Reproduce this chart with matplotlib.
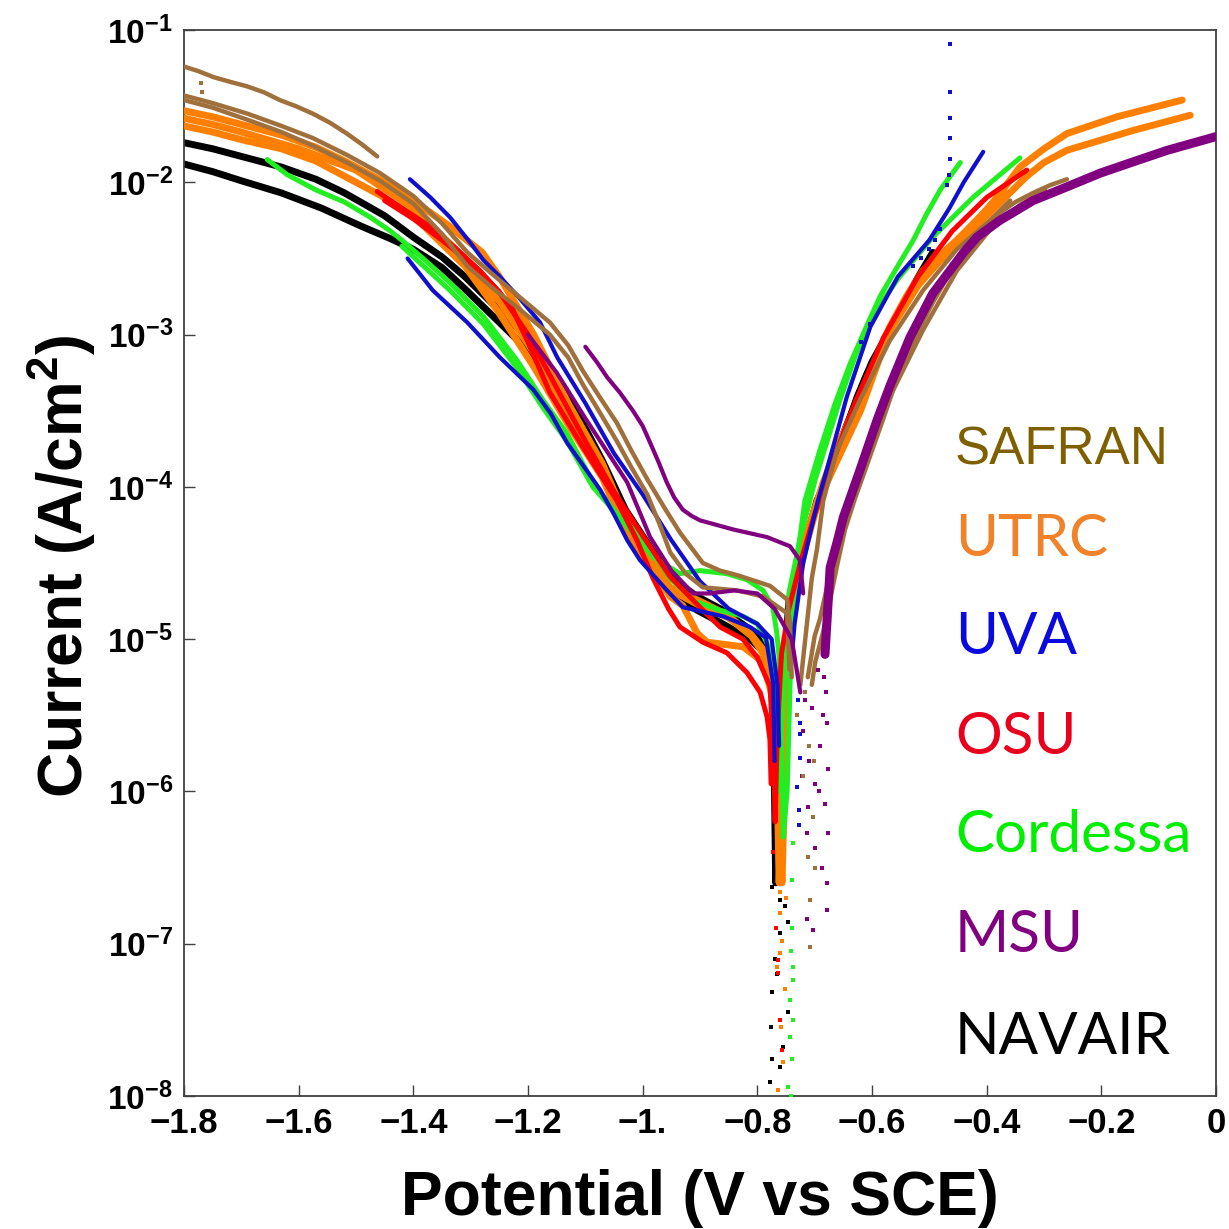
import numpy as np
import matplotlib
matplotlib.use("Agg")
import matplotlib.pyplot as plt

# Potentiodynamic scans: each run is a list of (E vs SCE [V], log10 current [A/cm2])
safran_runs = [
    [(-1.80, -1.24), (-1.775, -1.27), (-1.748, -1.31), (-1.72, -1.34), (-1.69, -1.37),
     (-1.66, -1.41), (-1.633, -1.46), (-1.605, -1.50), (-1.575, -1.55), (-1.545, -1.61),
     (-1.516, -1.68), (-1.49, -1.75), (-1.463, -1.83)],
    [(-1.80, -1.43), (-1.75, -1.48), (-1.689, -1.55), (-1.63, -1.63), (-1.575, -1.71),
     (-1.516, -1.82), (-1.458, -1.94), (-1.40, -2.09), (-1.35, -2.27), (-1.306, -2.46),
     (-1.26, -2.61), (-1.219, -2.74), (-1.162, -2.92), (-1.13, -3.07), (-1.104, -3.24),
     (-1.075, -3.41), (-1.045, -3.58), (-1.02, -3.76), (-0.992, -3.95), (-0.96, -4.15),
     (-0.935, -4.30), (-0.895, -4.50), (-0.865, -4.55), (-0.835, -4.58), (-0.778, -4.65),
     (-0.748, -4.74), (-0.743, -4.90), (-0.740, -5.25)],
    [(-0.725, -5.30), (-0.715, -4.95), (-0.705, -4.60), (-0.696, -4.41), (-0.685, -4.09),
     (-0.661, -3.76), (-0.621, -3.43), (-0.569, -3.04), (-0.511, -2.71), (-0.452, -2.44),
     (-0.394, -2.25), (-0.359, -2.12)],
    [(-1.80, -1.46), (-1.75, -1.51), (-1.689, -1.59), (-1.63, -1.67), (-1.575, -1.76),
     (-1.516, -1.87), (-1.458, -1.99), (-1.40, -2.14), (-1.35, -2.34), (-1.306, -2.55),
     (-1.26, -2.70), (-1.219, -2.82), (-1.162, -3.00), (-1.13, -3.15), (-1.104, -3.33),
     (-1.075, -3.51), (-1.045, -3.70), (-1.02, -3.87), (-0.992, -4.05), (-0.97, -4.25),
     (-0.952, -4.43), (-0.925, -4.57), (-0.895, -4.66), (-0.835, -4.68), (-0.790, -4.72),
     (-0.748, -4.83), (-0.744, -5.20)],
    [(-0.712, -5.25), (-0.700, -4.98), (-0.691, -4.87), (-0.675, -4.60), (-0.656, -4.35),
     (-0.635, -4.10), (-0.609, -3.82), (-0.569, -3.41), (-0.511, -2.97), (-0.452, -2.58),
     (-0.394, -2.31), (-0.342, -2.15), (-0.298, -2.05)],
    [(-0.705, -5.30), (-0.699, -5.15), (-0.685, -4.95), (-0.673, -4.74), (-0.660, -4.50),
     (-0.647, -4.28), (-0.630, -4.08), (-0.612, -3.89), (-0.581, -3.56), (-0.551, -3.23),
     (-0.520, -2.98), (-0.494, -2.79), (-0.465, -2.60), (-0.434, -2.42), (-0.405, -2.30),
     (-0.377, -2.20), (-0.350, -2.13), (-0.319, -2.07), (-0.290, -2.02), (-0.260, -1.98)],
]

utrc_runs = [
    [(-1.80, -1.53), (-1.75, -1.57), (-1.70, -1.62), (-1.63, -1.69), (-1.57, -1.77),
     (-1.52, -1.86), (-1.46, -1.98), (-1.40, -2.12), (-1.34, -2.28), (-1.28, -2.46),
     (-1.25, -2.62), (-1.19, -3.00), (-1.13, -3.45), (-1.07, -3.85), (-1.03, -4.20),
     (-1.01, -4.38), (-0.952, -4.66), (-0.895, -4.76), (-0.853, -4.84), (-0.813, -4.96),
     (-0.783, -5.10), (-0.768, -5.28), (-0.762, -5.60), (-0.760, -6.30), (-0.757, -6.60),
     (-0.752, -5.90), (-0.745, -5.00), (-0.731, -4.59), (-0.713, -4.30), (-0.685, -3.97),
     (-0.656, -3.70), (-0.630, -3.48), (-0.609, -3.30), (-0.569, -2.95), (-0.540, -2.75),
     (-0.511, -2.58), (-0.452, -2.38), (-0.394, -2.16), (-0.342, -1.90), (-0.300, -1.78),
     (-0.260, -1.68), (-0.173, -1.57), (-0.059, -1.46)],
    [(-1.80, -1.63), (-1.75, -1.67), (-1.70, -1.72), (-1.63, -1.78), (-1.57, -1.86),
     (-1.52, -1.96), (-1.46, -2.08), (-1.40, -2.22), (-1.31, -2.55), (-1.25, -2.86),
     (-1.19, -3.21), (-1.13, -3.59), (-1.07, -3.94), (-1.03, -4.30), (-1.00, -4.45),
     (-0.952, -4.72), (-0.930, -4.78), (-0.905, -4.96), (-0.888, -5.02), (-0.825, -5.05),
     (-0.790, -5.15), (-0.772, -5.40), (-0.765, -6.00), (-0.762, -6.60), (-0.757, -6.00),
     (-0.752, -5.30), (-0.740, -4.80), (-0.725, -4.50), (-0.700, -4.15), (-0.670, -3.90),
     (-0.620, -3.45), (-0.580, -3.05), (-0.550, -2.84), (-0.520, -2.67), (-0.460, -2.43),
     (-0.400, -2.22), (-0.330, -1.96), (-0.300, -1.87), (-0.260, -1.79), (-0.145, -1.66),
     (-0.045, -1.56)],
    [(-1.80, -1.58), (-1.75, -1.62), (-1.70, -1.67), (-1.60, -1.78), (-1.50, -1.92),
     (-1.40, -2.17), (-1.31, -2.50), (-1.25, -2.78), (-1.19, -3.12), (-1.13, -3.52),
     (-1.07, -3.90), (-1.03, -4.25), (-0.99, -4.45), (-0.95, -4.68), (-0.90, -4.78),
     (-0.85, -4.86), (-0.81, -4.98), (-0.78, -5.15), (-0.765, -5.50), (-0.760, -6.40),
     (-0.755, -5.80), (-0.748, -5.10), (-0.735, -4.70), (-0.715, -4.38), (-0.690, -4.05),
     (-0.660, -3.82), (-0.620, -3.50), (-0.570, -2.98), (-0.520, -2.68), (-0.460, -2.42),
     (-0.410, -2.22), (-0.370, -2.05)],
]

uva_runs = [
    [(-1.406, -1.98), (-1.37, -2.10), (-1.336, -2.23), (-1.30, -2.40), (-1.278, -2.51),
     (-1.249, -2.62), (-1.215, -2.76), (-1.179, -2.92), (-1.149, -3.15), (-1.10, -3.45),
     (-1.05, -3.78), (-1.00, -4.05), (-0.95, -4.35), (-0.90, -4.62), (-0.85, -4.80),
     (-0.80, -4.90), (-0.775, -5.00), (-0.765, -5.30), (-0.762, -5.70)],
    [(-0.742, -5.20), (-0.735, -4.90), (-0.720, -4.50), (-0.695, -4.10), (-0.668, -3.74),
     (-0.644, -3.41), (-0.603, -2.95), (-0.555, -2.62), (-0.500, -2.38), (-0.465, -2.17),
     (-0.440, -2.00), (-0.406, -1.80)],
    [(-1.41, -2.50), (-1.366, -2.71), (-1.306, -2.92), (-1.249, -3.15), (-1.191, -3.36),
     (-1.160, -3.52), (-1.132, -3.71), (-1.100, -3.88), (-1.074, -4.02), (-1.050, -4.18),
     (-1.027, -4.35), (-1.005, -4.48), (-0.96, -4.67), (-0.93, -4.79), (-0.86, -4.85),
     (-0.813, -4.92), (-0.785, -4.99), (-0.772, -5.30), (-0.770, -5.80)],
]

osu_runs = [
    [(-1.463, -2.06), (-1.42, -2.17), (-1.371, -2.29), (-1.33, -2.42), (-1.284, -2.58),
     (-1.250, -2.72), (-1.226, -2.84), (-1.20, -3.05), (-1.162, -3.38), (-1.104, -3.74),
     (-1.045, -4.09), (-1.01, -4.35), (-0.982, -4.60), (-0.955, -4.80), (-0.935, -4.92),
     (-0.895, -5.02), (-0.853, -5.09), (-0.818, -5.22), (-0.795, -5.35), (-0.783, -5.51),
     (-0.778, -5.66), (-0.776, -5.95)],
    [(-1.45, -2.12), (-1.40, -2.24), (-1.35, -2.38), (-1.30, -2.53), (-1.25, -2.72),
     (-1.20, -3.00), (-1.15, -3.35), (-1.10, -3.70), (-1.05, -4.03), (-1.00, -4.32),
     (-0.952, -4.59), (-0.895, -4.81), (-0.865, -4.92), (-0.825, -5.00), (-0.80, -5.12),
     (-0.778, -5.31), (-0.772, -5.70), (-0.769, -6.20), (-0.765, -5.60), (-0.758, -5.10),
     (-0.745, -4.80), (-0.725, -4.50), (-0.700, -4.18), (-0.670, -3.85), (-0.630, -3.45),
     (-0.580, -3.02), (-0.520, -2.62), (-0.460, -2.32), (-0.400, -2.10), (-0.330, -1.92)],
]

cordessa_runs = [
    [(-1.655, -1.85), (-1.62, -1.95), (-1.57, -2.05), (-1.52, -2.13), (-1.475, -2.23),
     (-1.44, -2.32), (-1.42, -2.38), (-1.38, -2.51), (-1.336, -2.66), (-1.278, -2.88),
     (-1.219, -3.17), (-1.174, -3.43), (-1.132, -3.65), (-1.087, -3.97), (-1.055, -4.13),
     (-1.027, -4.26), (-0.982, -4.46), (-0.935, -4.57), (-0.90, -4.55), (-0.853, -4.57),
     (-0.818, -4.61), (-0.79, -4.68), (-0.773, -4.79), (-0.766, -4.96), (-0.762, -5.12),
     (-0.758, -5.60), (-0.755, -6.30), (-0.748, -6.00), (-0.743, -5.30), (-0.740, -4.88),
     (-0.731, -4.48), (-0.717, -4.09), (-0.691, -3.76), (-0.665, -3.46), (-0.638, -3.19),
     (-0.610, -2.95), (-0.586, -2.75), (-0.555, -2.55), (-0.528, -2.38), (-0.505, -2.21),
     (-0.481, -2.05), (-0.446, -1.87)],
    [(-1.42, -2.42), (-1.336, -2.71), (-1.278, -2.93), (-1.219, -3.22), (-1.174, -3.48),
     (-1.132, -3.70), (-1.087, -4.00), (-1.04, -4.20), (-1.00, -4.33), (-0.952, -4.60),
     (-0.91, -4.75), (-0.865, -4.81), (-0.825, -4.85), (-0.80, -4.90), (-0.78, -5.05),
     (-0.768, -5.40), (-0.765, -6.00), (-0.758, -5.60), (-0.750, -5.10), (-0.745, -4.70),
     (-0.726, -4.35), (-0.699, -3.95), (-0.656, -3.43), (-0.630, -3.15), (-0.603, -2.90),
     (-0.556, -2.64), (-0.494, -2.36), (-0.424, -2.10), (-0.380, -1.96), (-0.342, -1.84)],
]

msu_runs = [
    [(-1.100, -3.08), (-1.080, -3.18), (-1.062, -3.28), (-1.040, -3.38), (-1.017, -3.50),
     (-1.000, -3.60), (-0.987, -3.71), (-0.972, -3.84), (-0.958, -3.97), (-0.945, -4.07),
     (-0.930, -4.15), (-0.915, -4.19), (-0.900, -4.22), (-0.842, -4.28), (-0.783, -4.33),
     (-0.743, -4.39), (-0.726, -4.48), (-0.720, -4.70)],
    [(-1.20, -3.00), (-1.15, -3.25), (-1.10, -3.55), (-1.06, -3.78), (-1.027, -3.97),
     (-0.987, -4.33), (-0.95, -4.55), (-0.912, -4.70), (-0.883, -4.70), (-0.84, -4.68),
     (-0.80, -4.70), (-0.77, -4.80), (-0.74, -5.00), (-0.725, -5.35)],
]
# thick anodic branch of the MSU scan
msu_anodic = [(-0.682, -5.10), (-0.678, -4.85), (-0.673, -4.53), (-0.660, -4.35), (-0.650, -4.20),
              (-0.621, -3.89), (-0.591, -3.56), (-0.569, -3.34), (-0.534, -3.02), (-0.494, -2.73),
              (-0.464, -2.58), (-0.440, -2.46), (-0.417, -2.36), (-0.377, -2.25), (-0.319, -2.12),
              (-0.260, -2.03), (-0.202, -1.94), (-0.140, -1.86), (-0.085, -1.79), (0.0, -1.70)]

navair_runs = [
    [(-1.80, -1.74), (-1.75, -1.78), (-1.70, -1.83), (-1.63, -1.90), (-1.57, -1.98),
     (-1.52, -2.07), (-1.45, -2.22), (-1.40, -2.36), (-1.35, -2.49), (-1.31, -2.62),
     (-1.25, -2.84), (-1.19, -3.06), (-1.13, -3.40), (-1.07, -3.83), (-1.03, -4.15),
     (-0.99, -4.38), (-0.95, -4.60), (-0.905, -4.72), (-0.865, -4.80), (-0.815, -4.93),
     (-0.785, -5.05), (-0.773, -5.30), (-0.770, -6.00), (-0.768, -6.60), (-0.764, -6.00),
     (-0.757, -5.40), (-0.745, -4.75), (-0.720, -4.41), (-0.696, -4.09), (-0.661, -3.80),
     (-0.626, -3.41), (-0.600, -3.18), (-0.569, -2.97), (-0.540, -2.76), (-0.516, -2.60),
     (-0.494, -2.46)],
    [(-1.80, -1.88), (-1.75, -1.93), (-1.70, -1.99), (-1.63, -2.07), (-1.56, -2.17),
     (-1.49, -2.29), (-1.44, -2.37), (-1.40, -2.44), (-1.35, -2.56), (-1.31, -2.70),
     (-1.25, -2.92), (-1.19, -3.14), (-1.13, -3.46), (-1.07, -3.90), (-1.03, -4.22),
     (-1.01, -4.41), (-0.952, -4.70), (-0.905, -4.81), (-0.865, -4.89), (-0.813, -5.00),
     (-0.778, -5.12), (-0.766, -5.27), (-0.762, -5.60), (-0.760, -6.20), (-0.759, -6.60),
     (-0.755, -6.00), (-0.750, -5.30), (-0.735, -4.65), (-0.712, -4.30), (-0.685, -4.00),
     (-0.650, -3.65), (-0.610, -3.27), (-0.560, -2.90), (-0.520, -2.65)],
]

# scattered points near the corrosion potential (E, log10 i)
black_dots_E = [-0.774, -0.760, -0.746, -0.760, -0.774, -0.746, -0.755, -0.774, -0.760, -0.778,
                -0.770, -0.765, -0.776, -0.752]
black_dots_i = [-6.63, -6.71, -6.86, -6.93, -7.32, -7.45, -7.68, -7.76, -7.81, -7.91,
                -7.10, -7.20, -7.55, -6.75]
green_dots_E = [-0.738, -0.740, -0.738, -0.743, -0.738, -0.743, -0.740, -0.746, -0.741, -0.739,
                -0.742, -0.737]
green_dots_i = [-6.34, -6.58, -7.24, -7.37, -7.50, -7.61, -7.76, -7.94, -8.00, -6.90,
                -7.05, -7.15]
orange_dots_E = [-0.760, -0.757, -0.760, -0.755, -0.764, -0.760, -0.752, -0.758, -0.766, -0.750]
orange_dots_i = [-6.80, -6.98, -7.06, -7.78, -7.96, -6.66, -7.30, -7.55, -7.15, -6.70]
red_dots_E = [-0.764, -0.760, -0.757, -0.764, -0.768, -0.772]
red_dots_i = [-7.19, -7.50, -7.70, -7.11, -6.90, -6.40]
purple_dots_E = [-0.714, -0.703, -0.678, -0.678, -0.714, -0.677, -0.682, -0.699, -0.720, -0.710,
                 -0.690, -0.700, -0.685, -0.722, -0.695, -0.680, -0.705, -0.688, -0.676, -0.712,
                 -0.684, -0.679, -0.717, -0.693]
purple_dots_i = [-6.84, -6.91, -6.78, -6.60, -6.27, -6.27, -6.08, -6.37, -5.60, -5.80,
                 -5.70, -5.95, -5.50, -5.90, -5.20, -5.35, -5.45, -6.50, -5.85, -6.10,
                 -5.25, -5.55, -5.40, -6.00]
brown_dots_E = [-0.708, -0.708, -0.712, -0.699, -0.703, -0.720, -0.730, -0.710, -0.716, -0.702,
                -1.770, -1.768]
brown_dots_i = [-6.71, -7.02, -6.43, -6.50, -6.17, -5.90, -5.50, -5.70, -5.35, -5.80,
                -1.35, -1.41]
blue_dots_E = [-0.728, -0.728, -0.731, -0.726, -0.726, -0.726, -0.729, -0.464, -0.464, -0.464,
               -0.464, -0.464, -0.466, -0.470, -0.528, -0.515, -0.500, -0.490, -0.481, -0.620,
               -0.603]
blue_dots_i = [-6.12, -6.22, -5.97, -5.62, -5.55, -5.78, -5.40, -1.09, -1.41, -1.58,
               -1.71, -1.85, -1.95, -2.02, -2.55, -2.50, -2.44, -2.38, -2.31, -3.05,
               -2.93]

labs = ["SAFRAN", "UTRC", "UVA", "OSU", "Cordessa", "MSU", "NAVAIR"]
label_colors = ["#7F6000", "#F0822A", "#0A0AE0", "#E8001C", "#00EE00", "#800080", "#000000"]

xticks = [-1.8, -1.6, -1.4, -1.2, -1.0, -0.8, -0.6, -0.4, -0.2, 0.0]
xtick_labels = ["\u22121.8", "\u22121.6", "\u22121.4", "\u22121.2", "\u22121.",
                "\u22120.8", "\u22120.6", "\u22120.4", "\u22120.2", "0"]
ytick_exps = [-8, -7, -6, -5, -4, -3, -2, -1]

plt.rcParams['mathtext.fontset'] = 'custom'
plt.rcParams['mathtext.rm'] = 'Liberation Sans:bold'
plt.rcParams['mathtext.it'] = 'Liberation Sans:bold'
plt.rcParams['mathtext.bf'] = 'Liberation Sans:bold'

fig = plt.figure(figsize=(12.29, 12.29), dpi=100)
ax = fig.add_axes([184 / 1229, 133 / 1229, 1032 / 1229, 1066 / 1229])


def draw_runs(runs, color, lw, z):
    for run in runs:
        e, lg = np.array(run).T
        ax.plot(e, 10.0 ** lg, color=color, lw=lw, solid_capstyle='round',
                solid_joinstyle='round', zorder=z)


def draw_dots(e, lg, color, z):
    ax.plot(e, 10.0 ** np.array(lg), 's', color=color, ms=2.6, mew=0, zorder=z)


draw_runs(navair_runs, "black", 5.0, 2)
draw_runs(utrc_runs, "#FF8000", 5.0, 3)
draw_runs(cordessa_runs, "#22EE22", 3.6, 4)
draw_runs(osu_runs, "#FF0000", 3.6, 5)
draw_runs(uva_runs, "#1010CC", 3.0, 6)
draw_runs(safran_runs, "#A0703C", 3.2, 7)
draw_runs(msu_runs, "#800080", 3.0, 8)
draw_runs([msu_anodic], "#800080", 6.5, 8)

draw_dots(black_dots_E, black_dots_i, "black", 9)
draw_dots(green_dots_E, green_dots_i, "#22EE22", 9)
draw_dots(orange_dots_E, orange_dots_i, "#FF8000", 9)
draw_dots(red_dots_E, red_dots_i, "#FF0000", 9)
draw_dots(purple_dots_E, purple_dots_i, "#800080", 9)
draw_dots(brown_dots_E, brown_dots_i, "#A0703C", 9)
draw_dots(blue_dots_E, blue_dots_i, "#1010CC", 9)

ax.set_xlim(-1.8, 0.0)
ax.set_yscale('log')
ax.set_ylim(1e-8, 1e-1)

ax.set_xticks(xticks)
ax.set_xticklabels(xtick_labels, fontsize=25, fontweight='bold', family='Liberation Sans')
ax.set_yticks([10.0 ** k for k in ytick_exps])
ax.set_yticklabels([r'$10^{%d}$' % k for k in ytick_exps], fontsize=24)
ax.minorticks_off()
ax.tick_params(direction='in', length=8, width=1.0, color='#404040', top=False, right=False)
ax.tick_params(axis='x', pad=8)
ax.tick_params(axis='y', pad=8)
for sp in ax.spines.values():
    sp.set_color('#404040')
    sp.set_linewidth(1.3)

fig.text(700 / 1229, 1 - 1215 / 1229, "Potential (V vs SCE)", ha='center', va='baseline',
         fontsize=45, fontweight='bold', family='Liberation Sans')
fig.text(62 / 1229, 1 - 566 / 1229, r"Current (A/cm$^2$)", ha='center', va='center',
         rotation=90, fontsize=45, fontweight='bold', family='Liberation Sans')

# lab names stacked down the right side
label_y = [450, 540, 638, 737, 836, 935, 1037]
for name, col, yy in zip(labs, label_colors, label_y):
    if name == "SAFRAN":
        fam, size = 'Liberation Sans', 38
    else:
        fam, size = 'Lato', 42
    fig.text(955 / 1229, 1 - yy / 1229, name, ha='left', va='center', color=col,
             fontsize=size, family=fam)

fig.savefig("out.png", dpi=100)
